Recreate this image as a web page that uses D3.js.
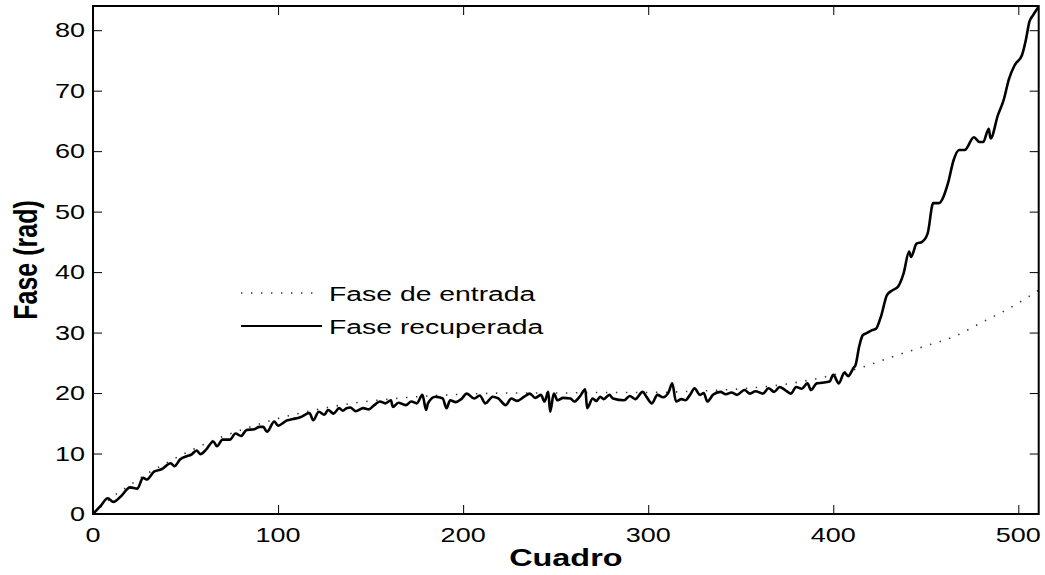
<!DOCTYPE html>
<html>
<head>
<meta charset="utf-8">
<script src="https://cdn.jsdelivr.net/npm/d3@7"></script>
<style>
  body { margin: 0; background: #fff; }
  svg { display: block; }
  text { font-family: "Liberation Sans", Arial, Helvetica, sans-serif; fill: #000; }
</style>
</head>
<body>
<svg id="chart"></svg>
<script>
// input phase (dotted)
const inputFrames = [0, 5, 10, 20, 30, 40, 50, 60, 70, 80, 90, 100, 120, 140, 160, 180, 200, 225, 250, 275, 300, 325, 350, 375, 400, 416, 430, 449, 465, 481, 495, 511];
const inputValues = [0, 1.4, 2.7, 4.8, 6.8, 8.5, 10.1, 11.5, 12.8, 13.9, 14.9, 15.8, 17.2, 18.3, 19.0, 19.5, 19.8, 20.0, 20.0, 20.1, 20.1, 20.3, 20.7, 21.5, 23.0, 24.3, 25.8, 27.7, 29.3, 31.8, 34.0, 37.0];

// recovered phase (solid)
const recFrames = [0, 4, 8, 11, 15, 20, 24, 27, 29, 33, 37, 42, 44, 47, 51, 53, 56, 58, 61, 65, 67, 70, 74, 77, 80, 83, 87, 90, 92, 94, 98, 100,
  105, 108, 112, 117, 119, 122, 125, 127, 130, 133, 135, 137, 139, 142, 146, 149, 152, 155, 158, 161, 162, 165, 169, 172, 175, 178, 180, 181,
  185, 187, 189, 191, 193, 196, 199, 202, 206, 209, 212, 216, 219, 223, 226, 229, 233, 236, 239, 242, 244, 246, 247, 249, 251, 254, 258, 260,
  263, 266, 267, 270, 272, 274, 276, 279, 281, 287, 290, 293, 297, 299, 302, 305, 308, 311, 313, 315, 318, 320, 323, 325, 328, 330, 332, 335,
  339, 342, 345, 348, 352, 355, 358, 362, 365, 368, 371, 374, 377, 380, 383, 386, 388, 391, 394, 398, 400, 403, 406, 408, 411, 412, 414, 416,
  418, 421, 423, 426, 429, 432, 435, 438, 441, 442, 445, 448, 451, 454, 457, 462, 465, 468, 471, 476, 479, 481, 484, 485, 489, 492, 495, 498,
  502, 504, 506, 508, 511];
const recValues = [0, 1.3, 2.6, 2.0, 2.9, 4.4, 4.2, 6.0, 5.7, 7.0, 7.4, 8.4, 7.9, 9.0, 9.6, 9.8, 10.5, 9.9, 10.6, 12.0, 11.2, 12.3, 12.3, 13.3, 12.9, 13.9, 14.0, 14.4, 14.4, 13.6, 15.3, 14.6,
  15.5, 15.7, 16.0, 16.7, 15.5, 16.9, 16.4, 17.2, 16.6, 17.5, 17.1, 17.5, 17.6, 17.0, 17.5, 17.3, 18.0, 18.6, 18.3, 18.8, 17.7, 18.4, 18.0, 18.6, 18.3, 19.7, 17.2, 18.3,
  19.4, 19.3, 19.1, 17.5, 18.8, 18.5, 19.0, 19.9, 19.1, 19.6, 18.3, 19.4, 19.1, 18.0, 19.1, 18.7, 19.4, 19.9, 19.2, 19.7, 18.6, 20.2, 16.9, 19.9, 18.8, 19.2, 19.1, 18.6,
  19.4, 20.6, 17.5, 19.1, 18.7, 19.4, 19.0, 19.7, 19.1, 18.8, 19.5, 19.0, 20.2, 19.4, 18.3, 19.7, 19.3, 20.1, 21.6, 18.6, 19.0, 18.8, 19.9, 20.8, 19.7, 20.0, 18.6, 19.7,
  20.2, 19.8, 20.1, 19.7, 20.5, 19.9, 20.3, 19.9, 20.8, 20.2, 21.0, 20.5, 19.9, 21.0, 20.7, 21.6, 20.5, 21.6, 21.7, 21.9, 23.0, 21.6, 23.4, 22.8, 24.2, 24.6, 27.7, 29.6,
  29.9, 30.4, 30.6, 32.9, 36.2, 37.0, 37.6, 39.8, 43.4, 42.5, 44.7, 45.0, 46.4, 51.4, 51.4, 54.7, 58.5, 60.2, 60.2, 62.3, 61.5, 61.5, 63.7, 62.1, 66.0, 68.4, 72.0, 74.2,
  75.9, 78.3, 81.4, 82.5, 83.9];

const xTicks = [0, 100, 200, 300, 400, 500];
const yTicks = [0, 10, 20, 30, 40, 50, 60, 70, 80];
const legendLabels = ["Fase de entrada", "Fase recuperada"];

const width = 1045, height = 575;
const margin = { top: 6, right: 6.3, bottom: 61, left: 93 };
const sx = 1.35; // the picture is stretched sideways, so is its text
const tickLen = 9;

const svg = d3.select("#chart").attr("width", width).attr("height", height);

const x = d3.scaleLinear().domain([0, 511]).range([margin.left, width - margin.right]);
const y = d3.scaleLinear().domain([0, 84]).range([height - margin.bottom, margin.top]);

svg.append("defs").append("clipPath").attr("id", "clip")
  .append("rect")
  .attr("x", x(0)).attr("y", y(84))
  .attr("width", x(511) - x(0)).attr("height", y(0) - y(84));

// inward ticks on all four sides (matlab box)
const axisOpts = (g) => g.call((s) => s.select(".domain").remove())
  .call((s) => s.selectAll(".tick line").attr("stroke", "#000").attr("stroke-width", 1))
  .call((s) => s.selectAll(".tick text").remove());

svg.append("g").attr("transform", `translate(0,${y(0)})`)
  .call(d3.axisTop(x).tickValues(xTicks).tickSize(tickLen)).call(axisOpts);
svg.append("g").attr("transform", `translate(0,${y(84)})`)
  .call(d3.axisBottom(x).tickValues(xTicks).tickSize(tickLen)).call(axisOpts);
svg.append("g").attr("transform", `translate(${x(0)},0)`)
  .call(d3.axisRight(y).tickValues(yTicks).tickSize(tickLen)).call(axisOpts);
svg.append("g").attr("transform", `translate(${x(511)},0)`)
  .call(d3.axisLeft(y).tickValues(yTicks).tickSize(tickLen)).call(axisOpts);

// tick labels
svg.append("g").selectAll("text").data(xTicks).join("text")
  .attr("transform", (d) => `translate(${x(d)},${y(0) + 28}) scale(${sx},1)`)
  .attr("text-anchor", "middle")
  .style("font-size", "20px")
  .text((d) => d);

svg.append("g").selectAll("text").data(yTicks).join("text")
  .attr("transform", (d) => `translate(${x(0) - 8},${y(d) + 7}) scale(${sx},1)`)
  .attr("text-anchor", "end")
  .style("font-size", "20px")
  .text((d) => d);

// lines
const inputData = inputFrames.map((f, i) => [f, inputValues[i]]);
const recData = recFrames.map((f, i) => [f, recValues[i]]);

const plot = svg.append("g").attr("clip-path", "url(#clip)");

plot.append("path")
  .datum(inputData)
  .attr("fill", "none")
  .attr("stroke", "#333")
  .attr("stroke-width", 1.6)
  .attr("stroke-dasharray", "1.4,8.6")
  .attr("d", d3.line().x((d) => x(d[0])).y((d) => y(d[1])).curve(d3.curveMonotoneX));

plot.append("path")
  .datum(recData)
  .attr("fill", "none")
  .attr("stroke", "#000")
  .attr("stroke-width", 2.6)
  .attr("stroke-linejoin", "round")
  .attr("d", d3.line().x((d) => x(d[0])).y((d) => y(d[1])).curve(d3.curveMonotoneX));

// box
svg.append("rect")
  .attr("x", x(0)).attr("y", y(84))
  .attr("width", x(511) - x(0)).attr("height", y(0) - y(84))
  .attr("fill", "none").attr("stroke", "#000").attr("stroke-width", 2);

// axis titles
svg.append("text")
  .attr("transform", `translate(${(x(0) + x(511)) / 2},${height - 9}) scale(${sx},1)`)
  .attr("text-anchor", "middle")
  .style("font-size", "24px").style("font-weight", "bold")
  .text("Cuadro");

svg.append("text")
  .attr("transform", `translate(37,${(y(0) + y(84)) / 2}) scale(${sx},1) rotate(-90)`)
  .attr("text-anchor", "middle")
  .style("font-size", "25px").style("font-weight", "bold")
  .text("Fase (rad)");

// legend
const legend = svg.append("g");
const legendY = [293, 326];
legend.append("line")
  .attr("x1", 241).attr("x2", 321).attr("y1", legendY[0]).attr("y2", legendY[0])
  .attr("stroke", "#333").attr("stroke-width", 1.6).attr("stroke-dasharray", "1.4,8.6");
legend.append("line")
  .attr("x1", 241).attr("x2", 322).attr("y1", legendY[1]).attr("y2", legendY[1])
  .attr("stroke", "#000").attr("stroke-width", 2.2);
legend.selectAll("text").data(legendLabels).join("text")
  .attr("transform", (d, i) => `translate(329,${legendY[i] + 7.5}) scale(${sx},1)`)
  .style("font-size", "21px")
  .text((d) => d);
</script>
</body>
</html>
